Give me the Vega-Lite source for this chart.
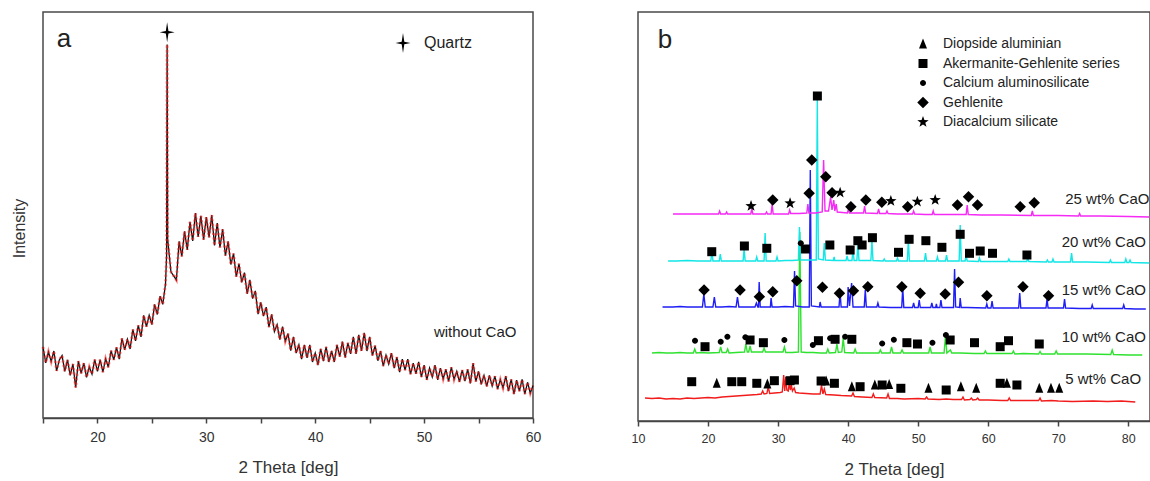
{
  "$schema": "https://vega.github.io/schema/vega-lite/v6.json",
  "background": "white",
  "padding": {"left": 10, "top": 11, "right": 0, "bottom": 0},
  "bounds": "flush",
  "spacing": 105,
  "config": {
    "view": {"stroke": "#4a4a4a", "strokeWidth": 1.5},
    "font": "Liberation Sans"
  },
  "resolve": {"scale": {"shape": "independent", "color": "independent"}, "legend": {"shape": "independent"}},
  "datasets": {
    "xrdA": [
      {"t":15.00,"i":17.5},{"t":15.25,"i":13.6},{"t":15.50,"i":16.3},{"t":15.75,"i":13.9},
      {"t":16.00,"i":16.5},{"t":16.25,"i":11.6},{"t":16.50,"i":14.3},{"t":16.75,"i":15.4},
      {"t":17.00,"i":11.5},{"t":17.25,"i":14.3},{"t":17.50,"i":10.5},{"t":17.75,"i":13.3},
      {"t":18.00,"i":7.5},{"t":18.25,"i":14.0},{"t":18.50,"i":11.0},{"t":18.75,"i":13.5},
      {"t":19.00,"i":10.0},{"t":19.25,"i":12.6},{"t":19.50,"i":10.8},{"t":19.75,"i":14.4},
      {"t":20.00,"i":11.5},{"t":20.25,"i":14.4},{"t":20.50,"i":11.3},{"t":20.75,"i":14.6},
      {"t":21.00,"i":12.5},{"t":21.25,"i":16.6},{"t":21.50,"i":14.3},{"t":21.75,"i":17.4},
      {"t":22.00,"i":14.5},{"t":22.25,"i":19.6},{"t":22.50,"i":16.8},{"t":22.75,"i":19.4},
      {"t":23.00,"i":17.0},{"t":23.25,"i":21.8},{"t":23.50,"i":19.0},{"t":23.75,"i":22.8},
      {"t":24.00,"i":20.0},{"t":24.25,"i":25.3},{"t":24.50,"i":22.5},{"t":24.75,"i":25.3},
      {"t":25.00,"i":23.0},{"t":25.25,"i":28.0},{"t":25.50,"i":25.5},{"t":25.75,"i":30.0},
      {"t":26.00,"i":28.0},{"t":26.25,"i":33.0},{"t":26.35,"i":40.0},{"t":26.40,"i":92.0},
      {"t":26.45,"i":44.0},{"t":26.75,"i":36.0},{"t":27.00,"i":35.0},{"t":27.25,"i":34.0},
      {"t":27.50,"i":43.5},{"t":27.75,"i":39.8},{"t":28.00,"i":46.0},{"t":28.25,"i":41.4},
      {"t":28.50,"i":48.3},{"t":28.75,"i":43.6},{"t":29.00,"i":50.5},{"t":29.25,"i":44.6},
      {"t":29.50,"i":49.8},{"t":29.75,"i":43.9},{"t":30.00,"i":49.5},{"t":30.25,"i":44.5},
      {"t":30.50,"i":50.0},{"t":30.75,"i":42.5},{"t":31.00,"i":48.0},{"t":31.25,"i":42.0},
      {"t":31.50,"i":46.5},{"t":31.75,"i":40.0},{"t":32.00,"i":43.5},{"t":32.25,"i":37.8},
      {"t":32.50,"i":40.5},{"t":32.75,"i":34.8},{"t":33.00,"i":38.0},{"t":33.25,"i":33.4},
      {"t":33.50,"i":35.8},{"t":33.75,"i":30.6},{"t":34.00,"i":34.0},{"t":34.25,"i":29.4},
      {"t":34.50,"i":31.3},{"t":34.75,"i":25.6},{"t":35.00,"i":28.5},{"t":35.25,"i":25.1},
      {"t":35.50,"i":27.3},{"t":35.75,"i":22.4},{"t":36.00,"i":25.5},{"t":36.25,"i":21.3},
      {"t":36.50,"i":23.0},{"t":36.75,"i":19.3},{"t":37.00,"i":22.5},{"t":37.25,"i":18.9},
      {"t":37.50,"i":20.8},{"t":37.75,"i":16.6},{"t":38.00,"i":20.0},{"t":38.25,"i":16.0},
      {"t":38.50,"i":18.0},{"t":38.75,"i":14.5},{"t":39.00,"i":18.0},{"t":39.25,"i":14.8},
      {"t":39.50,"i":18.0},{"t":39.75,"i":13.8},{"t":40.00,"i":16.0},{"t":40.25,"i":13.0},
      {"t":40.50,"i":17.0},{"t":40.75,"i":14.0},{"t":41.00,"i":17.5},{"t":41.25,"i":13.8},
      {"t":41.50,"i":16.5},{"t":41.75,"i":13.8},{"t":42.00,"i":18.0},{"t":42.25,"i":15.1},
      {"t":42.50,"i":18.8},{"t":42.75,"i":14.9},{"t":43.00,"i":18.5},{"t":43.25,"i":15.8},
      {"t":43.50,"i":20.0},{"t":43.75,"i":15.8},{"t":44.00,"i":20.5},{"t":44.25,"i":16.5},
      {"t":44.50,"i":21.0},{"t":44.75,"i":16.5},{"t":45.00,"i":20.0},{"t":45.25,"i":15.4},
      {"t":45.50,"i":17.8},{"t":45.75,"i":14.1},{"t":46.00,"i":16.5},{"t":46.25,"i":12.8},
      {"t":46.50,"i":15.5},{"t":46.75,"i":13.3},{"t":47.00,"i":16.0},{"t":47.25,"i":12.3},
      {"t":47.50,"i":15.0},{"t":47.75,"i":11.3},{"t":48.00,"i":14.5},{"t":48.25,"i":11.8},
      {"t":48.50,"i":14.5},{"t":48.75,"i":10.8},{"t":49.00,"i":13.5},{"t":49.25,"i":10.9},
      {"t":49.50,"i":13.8},{"t":49.75,"i":10.1},{"t":50.00,"i":13.0},{"t":50.25,"i":9.4},
      {"t":50.50,"i":12.3},{"t":50.75,"i":10.1},{"t":51.00,"i":13.0},{"t":51.25,"i":9.4},
      {"t":51.50,"i":12.3},{"t":51.75,"i":9.6},{"t":52.00,"i":12.0},{"t":52.25,"i":9.0},
      {"t":52.50,"i":12.5},{"t":52.75,"i":9.5},{"t":53.00,"i":11.5},{"t":53.25,"i":8.9},
      {"t":53.50,"i":11.8},{"t":53.75,"i":9.1},{"t":54.00,"i":12.0},{"t":54.25,"i":8.5},
      {"t":54.50,"i":13.5},{"t":54.75,"i":9.0},{"t":55.00,"i":11.5},{"t":55.25,"i":8.3},
      {"t":55.50,"i":10.5},{"t":55.75,"i":7.8},{"t":56.00,"i":10.5},{"t":56.25,"i":7.9},
      {"t":56.50,"i":10.3},{"t":56.75,"i":7.1},{"t":57.00,"i":9.5},{"t":57.25,"i":7.4},
      {"t":57.50,"i":10.3},{"t":57.75,"i":6.6},{"t":58.00,"i":9.5},{"t":58.25,"i":5.9},
      {"t":58.50,"i":9.3},{"t":58.75,"i":6.6},{"t":59.00,"i":9.5},{"t":59.25,"i":5.9},
      {"t":59.50,"i":8.8},{"t":59.75,"i":6.1},{"t":60.00,"i":8.0}
    ],
    "quartz": [{"t":26.4,"i":95.0,"p":"Quartz"}],
    "tagA": [{"t":16.93,"i":91.3,"txt":"a"}],
    "noteA": [{"t":50.9,"i":21.1,"txt":"without CaO"}],
    "xrdB": [
      {"s":"5","t":11,"v":23},{"s":"5","t":12,"v":22.5},{"s":"5","t":13,"v":23},{"s":"5","t":14,"v":22},{"s":"5","t":15,"v":22.5},{"s":"5","t":16,"v":22},{"s":"5","t":17,"v":23},{"s":"5","t":18,"v":22.5},{"s":"5","t":19,"v":23},{"s":"5","t":20,"v":23.5},{"s":"5","t":21,"v":23},{"s":"5","t":22,"v":24},{"s":"5","t":23,"v":24.5},{"s":"5","t":24,"v":25},{"s":"5","t":25,"v":25.5},{"s":"5","t":26,"v":26},{"s":"5","t":27,"v":26.5},{"s":"5","t":27.6,"v":27},{"s":"5","t":27.8,"v":30},{"s":"5","t":28,"v":27},{"s":"5","t":28.4,"v":27.5},{"s":"5","t":28.6,"v":34},{"s":"5","t":28.8,"v":27.5},{"s":"5","t":29.5,"v":28},{"s":"5","t":30.3,"v":28.5},{"s":"5","t":30.6,"v":29},{"s":"5","t":30.8,"v":46},{"s":"5","t":30.95,"v":30},{"s":"5","t":31.1,"v":44},{"s":"5","t":31.25,"v":31},{"s":"5","t":31.45,"v":30},{"s":"5","t":31.6,"v":38},{"s":"5","t":31.75,"v":31},{"s":"5","t":31.9,"v":36},{"s":"5","t":32.05,"v":30},{"s":"5","t":32.3,"v":33},{"s":"5","t":32.5,"v":28.5},{"s":"5","t":33,"v":28},{"s":"5","t":34,"v":27.5},{"s":"5","t":35,"v":27},{"s":"5","t":36,"v":27},{"s":"5","t":36.2,"v":36},{"s":"5","t":36.4,"v":27},{"s":"5","t":36.6,"v":32},{"s":"5","t":36.8,"v":26.5},{"s":"5","t":38,"v":26},{"s":"5","t":39,"v":25.5},{"s":"5","t":40.5,"v":25},{"s":"5","t":40.7,"v":28},{"s":"5","t":40.9,"v":24.5},{"s":"5","t":42,"v":24},{"s":"5","t":43.4,"v":23.5},{"s":"5","t":43.6,"v":27},{"s":"5","t":43.8,"v":23.5},{"s":"5","t":45.5,"v":23},{"s":"5","t":45.7,"v":27},{"s":"5","t":45.9,"v":22.5},{"s":"5","t":47,"v":22.5},{"s":"5","t":48,"v":22},{"s":"5","t":50,"v":22.5},{"s":"5","t":51,"v":22},{"s":"5","t":51.2,"v":24},{"s":"5","t":51.4,"v":22},{"s":"5","t":53,"v":21.5},{"s":"5","t":54,"v":22},{"s":"5","t":55,"v":21.5},{"s":"5","t":56.2,"v":21.5},{"s":"5","t":56.4,"v":24},{"s":"5","t":56.6,"v":21},{"s":"5","t":57.4,"v":21.5},{"s":"5","t":57.6,"v":23},{"s":"5","t":57.8,"v":21},{"s":"5","t":58.3,"v":21.5},{"s":"5","t":58.5,"v":23},{"s":"5","t":58.7,"v":21},{"s":"5","t":60,"v":21},{"s":"5","t":62,"v":20.5},{"s":"5","t":62.8,"v":20.5},{"s":"5","t":63,"v":23},{"s":"5","t":63.2,"v":20.5},{"s":"5","t":65,"v":20.5},{"s":"5","t":67.2,"v":20.5},{"s":"5","t":67.4,"v":23},{"s":"5","t":67.6,"v":20},{"s":"5","t":69,"v":20.5},{"s":"5","t":70,"v":20},{"s":"5","t":72,"v":19.5},{"s":"5","t":75,"v":20},{"s":"5","t":77,"v":19.5},{"s":"5","t":79,"v":20},{"s":"5","t":81,"v":19},
      {"s":"10","t":12,"v":68},{"s":"10","t":13,"v":68.5},{"s":"10","t":14,"v":68},{"s":"10","t":15,"v":68},{"s":"10","t":16,"v":68.5},{"s":"10","t":17,"v":68},{"s":"10","t":17.9,"v":68},{"s":"10","t":18.1,"v":72},{"s":"10","t":18.3,"v":68},{"s":"10","t":19,"v":68.5},{"s":"10","t":20,"v":68},{"s":"10","t":21.6,"v":68.5},{"s":"10","t":21.8,"v":74},{"s":"10","t":22,"v":68.5},{"s":"10","t":22.6,"v":68.5},{"s":"10","t":22.8,"v":72},{"s":"10","t":23,"v":68},{"s":"10","t":24,"v":68.5},{"s":"10","t":25.2,"v":69},{"s":"10","t":25.4,"v":77},{"s":"10","t":25.6,"v":69},{"s":"10","t":25.8,"v":69},{"s":"10","t":26,"v":75},{"s":"10","t":26.2,"v":69},{"s":"10","t":27,"v":69},{"s":"10","t":27.8,"v":69},{"s":"10","t":28,"v":73},{"s":"10","t":28.2,"v":69},{"s":"10","t":29,"v":69},{"s":"10","t":30.7,"v":69},{"s":"10","t":30.9,"v":74},{"s":"10","t":31.1,"v":68.5},{"s":"10","t":32,"v":68.5},{"s":"10","t":32.9,"v":69},{"s":"10","t":33.1,"v":189},{"s":"10","t":33.3,"v":69},{"s":"10","t":34,"v":68.5},{"s":"10","t":35,"v":68.5},{"s":"10","t":36,"v":68},{"s":"10","t":36.9,"v":68},{"s":"10","t":37.1,"v":72},{"s":"10","t":37.3,"v":68},{"s":"10","t":38.2,"v":68.5},{"s":"10","t":38.4,"v":77},{"s":"10","t":38.6,"v":68.5},{"s":"10","t":39.1,"v":69},{"s":"10","t":39.3,"v":83},{"s":"10","t":39.5,"v":68.5},{"s":"10","t":40.8,"v":68},{"s":"10","t":41,"v":72},{"s":"10","t":41.2,"v":68},{"s":"10","t":42,"v":68},{"s":"10","t":43,"v":68},{"s":"10","t":44.4,"v":68},{"s":"10","t":44.6,"v":71},{"s":"10","t":44.8,"v":68},{"s":"10","t":46,"v":68},{"s":"10","t":46.2,"v":74},{"s":"10","t":46.4,"v":68},{"s":"10","t":47.5,"v":68},{"s":"10","t":47.7,"v":71},{"s":"10","t":47.9,"v":68},{"s":"10","t":49,"v":68},{"s":"10","t":50,"v":68},{"s":"10","t":51.5,"v":68},{"s":"10","t":51.7,"v":74},{"s":"10","t":51.9,"v":68},{"s":"10","t":53,"v":68},{"s":"10","t":53.7,"v":68},{"s":"10","t":53.9,"v":85},{"s":"10","t":54.1,"v":68},{"s":"10","t":54.6,"v":71},{"s":"10","t":54.8,"v":68},{"s":"10","t":56,"v":68},{"s":"10","t":58,"v":67.5},{"s":"10","t":59.4,"v":67.5},{"s":"10","t":59.6,"v":70},{"s":"10","t":59.8,"v":67.5},{"s":"10","t":61,"v":67.5},{"s":"10","t":63.4,"v":67.5},{"s":"10","t":63.6,"v":70},{"s":"10","t":63.8,"v":67},{"s":"10","t":65,"v":67.5},{"s":"10","t":67.2,"v":67},{"s":"10","t":67.4,"v":69.5},{"s":"10","t":67.6,"v":67},{"s":"10","t":69.5,"v":67},{"s":"10","t":69.7,"v":70},{"s":"10","t":69.9,"v":67},{"s":"10","t":72,"v":67},{"s":"10","t":74,"v":67},{"s":"10","t":77.5,"v":66.5},{"s":"10","t":77.7,"v":71},{"s":"10","t":77.9,"v":66.5},{"s":"10","t":80,"v":66},{"s":"10","t":82,"v":66},
      {"s":"15","t":13.5,"v":114},{"s":"15","t":15,"v":114},{"s":"15","t":16,"v":114.5},{"s":"15","t":17,"v":114},{"s":"15","t":18,"v":114},{"s":"15","t":19.2,"v":114},{"s":"15","t":19.4,"v":127},{"s":"15","t":19.6,"v":114},{"s":"15","t":20.7,"v":114},{"s":"15","t":20.9,"v":124},{"s":"15","t":21.1,"v":114},{"s":"15","t":22,"v":114},{"s":"15","t":23,"v":114.5},{"s":"15","t":24,"v":114},{"s":"15","t":24.2,"v":124},{"s":"15","t":24.4,"v":114},{"s":"15","t":25.5,"v":114},{"s":"15","t":26.7,"v":114},{"s":"15","t":26.9,"v":118},{"s":"15","t":27.1,"v":114},{"s":"15","t":27.2,"v":114},{"s":"15","t":27.3,"v":139},{"s":"15","t":27.45,"v":114},{"s":"15","t":28.9,"v":114},{"s":"15","t":29,"v":123},{"s":"15","t":29.15,"v":114},{"s":"15","t":30,"v":114},{"s":"15","t":31,"v":114.5},{"s":"15","t":32.2,"v":114},{"s":"15","t":32.35,"v":150},{"s":"15","t":32.5,"v":115},{"s":"15","t":33.5,"v":114},{"s":"15","t":34.45,"v":114},{"s":"15","t":34.6,"v":251},{"s":"15","t":34.75,"v":115},{"s":"15","t":35.9,"v":114},{"s":"15","t":36,"v":119},{"s":"15","t":36.15,"v":114},{"s":"15","t":37,"v":114},{"s":"15","t":38.7,"v":114},{"s":"15","t":38.85,"v":129},{"s":"15","t":39,"v":114},{"s":"15","t":39.9,"v":114},{"s":"15","t":40,"v":134},{"s":"15","t":40.2,"v":115},{"s":"15","t":40.5,"v":138},{"s":"15","t":40.7,"v":114},{"s":"15","t":42.3,"v":114},{"s":"15","t":42.45,"v":131},{"s":"15","t":42.6,"v":114},{"s":"15","t":44.1,"v":114},{"s":"15","t":44.25,"v":118},{"s":"15","t":44.4,"v":114},{"s":"15","t":46,"v":113.5},{"s":"15","t":47.65,"v":113.5},{"s":"15","t":47.8,"v":133},{"s":"15","t":47.95,"v":113.5},{"s":"15","t":49.2,"v":113.5},{"s":"15","t":49.35,"v":118},{"s":"15","t":49.5,"v":113.5},{"s":"15","t":50,"v":113.5},{"s":"15","t":50.15,"v":121},{"s":"15","t":50.3,"v":113.5},{"s":"15","t":51.8,"v":113.5},{"s":"15","t":51.95,"v":118},{"s":"15","t":52.1,"v":113.5},{"s":"15","t":52.5,"v":113.5},{"s":"15","t":52.6,"v":117},{"s":"15","t":52.7,"v":113.5},{"s":"15","t":53.1,"v":113.5},{"s":"15","t":53.25,"v":121},{"s":"15","t":53.4,"v":113.5},{"s":"15","t":55.05,"v":113.5},{"s":"15","t":55.2,"v":152},{"s":"15","t":55.35,"v":114},{"s":"15","t":55.9,"v":113.5},{"s":"15","t":56,"v":123},{"s":"15","t":56.15,"v":113.5},{"s":"15","t":57,"v":113.5},{"s":"15","t":59.65,"v":113},{"s":"15","t":59.8,"v":117},{"s":"15","t":59.95,"v":113},{"s":"15","t":60.4,"v":113},{"s":"15","t":60.55,"v":120},{"s":"15","t":60.7,"v":113},{"s":"15","t":62,"v":113},{"s":"15","t":64.35,"v":113},{"s":"15","t":64.5,"v":128},{"s":"15","t":64.65,"v":113},{"s":"15","t":66.5,"v":113},{"s":"15","t":68.25,"v":113},{"s":"15","t":68.4,"v":122},{"s":"15","t":68.55,"v":113},{"s":"15","t":70.75,"v":113},{"s":"15","t":70.9,"v":122},{"s":"15","t":71.05,"v":113},{"s":"15","t":73,"v":112.5},{"s":"15","t":74.7,"v":112.5},{"s":"15","t":74.85,"v":116},{"s":"15","t":75,"v":112.5},{"s":"15","t":77,"v":112.5},{"s":"15","t":79.2,"v":112.5},{"s":"15","t":79.35,"v":116},{"s":"15","t":79.5,"v":112.5},{"s":"15","t":81,"v":112},{"s":"15","t":82.5,"v":112},
      {"s":"20","t":14.3,"v":160},{"s":"20","t":15.5,"v":160},{"s":"20","t":17,"v":160.5},{"s":"20","t":18.5,"v":160},{"s":"20","t":20.4,"v":160},{"s":"20","t":20.55,"v":170},{"s":"20","t":20.7,"v":160},{"s":"20","t":21.6,"v":160},{"s":"20","t":21.75,"v":167},{"s":"20","t":21.9,"v":160},{"s":"20","t":23,"v":160},{"s":"20","t":25,"v":160},{"s":"20","t":25.15,"v":172},{"s":"20","t":25.3,"v":160},{"s":"20","t":26.8,"v":160},{"s":"20","t":26.95,"v":164},{"s":"20","t":27.1,"v":160},{"s":"20","t":28,"v":160},{"s":"20","t":28.15,"v":188},{"s":"20","t":28.3,"v":160},{"s":"20","t":29.7,"v":160},{"s":"20","t":29.85,"v":164},{"s":"20","t":30,"v":160},{"s":"20","t":31,"v":160.5},{"s":"20","t":32,"v":160.5},{"s":"20","t":32.9,"v":161},{"s":"20","t":33.05,"v":194},{"s":"20","t":33.2,"v":161},{"s":"20","t":34,"v":161},{"s":"20","t":35.45,"v":161},{"s":"20","t":35.6,"v":321},{"s":"20","t":35.75,"v":162},{"s":"20","t":36.45,"v":161},{"s":"20","t":36.6,"v":178},{"s":"20","t":36.75,"v":161},{"s":"20","t":37.9,"v":160.5},{"s":"20","t":38,"v":164},{"s":"20","t":38.1,"v":160.5},{"s":"20","t":39.7,"v":160.5},{"s":"20","t":39.85,"v":165},{"s":"20","t":40,"v":160.5},{"s":"20","t":40.55,"v":160.5},{"s":"20","t":40.7,"v":172},{"s":"20","t":40.85,"v":160.5},{"s":"20","t":41.25,"v":160.5},{"s":"20","t":41.4,"v":178},{"s":"20","t":41.55,"v":160.5},{"s":"20","t":43.25,"v":160.5},{"s":"20","t":43.4,"v":181},{"s":"20","t":43.55,"v":160.5},{"s":"20","t":45,"v":160},{"s":"20","t":45.15,"v":162},{"s":"20","t":45.3,"v":160},{"s":"20","t":46.9,"v":160},{"s":"20","t":47.05,"v":163},{"s":"20","t":47.2,"v":160},{"s":"20","t":48.45,"v":160},{"s":"20","t":48.6,"v":181},{"s":"20","t":48.75,"v":160},{"s":"20","t":50.9,"v":160},{"s":"20","t":51.05,"v":168},{"s":"20","t":51.2,"v":160},{"s":"20","t":52.6,"v":160},{"s":"20","t":52.75,"v":164},{"s":"20","t":52.9,"v":160},{"s":"20","t":53.9,"v":160},{"s":"20","t":54.05,"v":166},{"s":"20","t":54.2,"v":160},{"s":"20","t":55.85,"v":160},{"s":"20","t":56,"v":196},{"s":"20","t":56.15,"v":160},{"s":"20","t":56.7,"v":160},{"s":"20","t":56.85,"v":165},{"s":"20","t":57,"v":160},{"s":"20","t":58.6,"v":159.5},{"s":"20","t":58.75,"v":163},{"s":"20","t":58.9,"v":159.5},{"s":"20","t":60.5,"v":159.5},{"s":"20","t":62.8,"v":159.5},{"s":"20","t":62.95,"v":162},{"s":"20","t":63.1,"v":159.5},{"s":"20","t":65.5,"v":159.5},{"s":"20","t":65.65,"v":163},{"s":"20","t":65.8,"v":159.5},{"s":"20","t":68.3,"v":159},{"s":"20","t":68.45,"v":161},{"s":"20","t":68.6,"v":159},{"s":"20","t":69.1,"v":159},{"s":"20","t":69.25,"v":162},{"s":"20","t":69.4,"v":159},{"s":"20","t":71.75,"v":159},{"s":"20","t":71.9,"v":168},{"s":"20","t":72.05,"v":159},{"s":"20","t":74,"v":159},{"s":"20","t":77.3,"v":158.5},{"s":"20","t":77.45,"v":161},{"s":"20","t":77.6,"v":158.5},{"s":"20","t":79.5,"v":158.5},{"s":"20","t":79.65,"v":162},{"s":"20","t":79.8,"v":158.5},{"s":"20","t":80.1,"v":158.5},{"s":"20","t":80.25,"v":161},{"s":"20","t":80.4,"v":158.5},{"s":"20","t":83,"v":158},
      {"s":"25","t":15,"v":207},{"s":"25","t":16.5,"v":207},{"s":"25","t":18,"v":207},{"s":"25","t":20,"v":207},{"s":"25","t":21.5,"v":207},{"s":"25","t":21.65,"v":210},{"s":"25","t":21.8,"v":207},{"s":"25","t":22.5,"v":207},{"s":"25","t":22.65,"v":209},{"s":"25","t":22.8,"v":207},{"s":"25","t":24,"v":207},{"s":"25","t":26.1,"v":207},{"s":"25","t":26.25,"v":212},{"s":"25","t":26.4,"v":207},{"s":"25","t":28.2,"v":207},{"s":"25","t":28.35,"v":209},{"s":"25","t":28.5,"v":207},{"s":"25","t":29,"v":207},{"s":"25","t":29.15,"v":217},{"s":"25","t":29.3,"v":207},{"s":"25","t":30.5,"v":207},{"s":"25","t":31.5,"v":207},{"s":"25","t":31.65,"v":211},{"s":"25","t":31.8,"v":207.5},{"s":"25","t":33,"v":207.5},{"s":"25","t":34.1,"v":208},{"s":"25","t":34.25,"v":217},{"s":"25","t":34.4,"v":208},{"s":"25","t":35.4,"v":208},{"s":"25","t":36.3,"v":209},{"s":"25","t":36.5,"v":261},{"s":"25","t":36.7,"v":210},{"s":"25","t":37.2,"v":210},{"s":"25","t":37.5,"v":224},{"s":"25","t":37.7,"v":211},{"s":"25","t":37.95,"v":221},{"s":"25","t":38.1,"v":210},{"s":"25","t":38.3,"v":217},{"s":"25","t":38.45,"v":209},{"s":"25","t":39.9,"v":208},{"s":"25","t":40.05,"v":212},{"s":"25","t":40.2,"v":208},{"s":"25","t":41.2,"v":208},{"s":"25","t":42.2,"v":208},{"s":"25","t":42.35,"v":215},{"s":"25","t":42.5,"v":208},{"s":"25","t":44.2,"v":207.5},{"s":"25","t":44.35,"v":212},{"s":"25","t":44.5,"v":207.5},{"s":"25","t":45.4,"v":207.5},{"s":"25","t":45.55,"v":210},{"s":"25","t":45.7,"v":207.5},{"s":"25","t":47,"v":207},{"s":"25","t":49.2,"v":207},{"s":"25","t":49.35,"v":210},{"s":"25","t":49.5,"v":207},{"s":"25","t":51,"v":206.5},{"s":"25","t":52,"v":206.5},{"s":"25","t":52.15,"v":210},{"s":"25","t":52.3,"v":206.5},{"s":"25","t":54,"v":206.5},{"s":"25","t":56.85,"v":206.5},{"s":"25","t":57,"v":216},{"s":"25","t":57.15,"v":206.5},{"s":"25","t":59,"v":206},{"s":"25","t":62,"v":206},{"s":"25","t":66.15,"v":205.5},{"s":"25","t":66.3,"v":210},{"s":"25","t":66.45,"v":205.5},{"s":"25","t":70,"v":205.5},{"s":"25","t":72.9,"v":205},{"s":"25","t":73.05,"v":207.5},{"s":"25","t":73.2,"v":205},{"s":"25","t":76,"v":205},{"s":"25","t":80,"v":204.5},{"s":"25","t":83,"v":204}
    ],
    "marksB": [
      {"p":"Diacalcium silicate","t":26.14,"v":215},{"p":"Gehlenite","t":29.24,"v":221},{"p":"Diacalcium silicate","t":31.71,"v":217.7},{"p":"Gehlenite","t":34.43,"v":227.7},{"p":"Gehlenite","t":34.81,"v":261},{"p":"Gehlenite","t":36.81,"v":244.3},{"p":"Gehlenite","t":37.71,"v":228.3},{"p":"Diacalcium silicate","t":38.86,"v":228.3},{"p":"Gehlenite","t":40.39,"v":214.3},{"p":"Gehlenite","t":42.53,"v":221},{"p":"Gehlenite","t":44.81,"v":218.7},{"p":"Diacalcium silicate","t":46.1,"v":220},{"p":"Gehlenite","t":48.5,"v":214.3},{"p":"Diacalcium silicate","t":49.89,"v":219.3},{"p":"Diacalcium silicate","t":52.43,"v":221},{"p":"Gehlenite","t":55.61,"v":216},{"p":"Gehlenite","t":57.19,"v":224.3},{"p":"Gehlenite","t":58.47,"v":216},{"p":"Gehlenite","t":64.57,"v":214.3},{"p":"Gehlenite","t":66.57,"v":218.3},
      {"p":"Akermanite-Gehlenite series","t":20.53,"v":169.3},{"p":"Akermanite-Gehlenite series","t":25.19,"v":175},{"p":"Akermanite-Gehlenite series","t":28.39,"v":172.7},{"p":"Calcium aluminosilicate","t":33.24,"v":177.7},{"p":"Akermanite-Gehlenite series","t":33.9,"v":172},{"p":"Akermanite-Gehlenite series","t":35.61,"v":325},{"p":"Akermanite-Gehlenite series","t":37.39,"v":176},{"p":"Akermanite-Gehlenite series","t":40.29,"v":171},{"p":"Akermanite-Gehlenite series","t":41.39,"v":180.3},{"p":"Akermanite-Gehlenite series","t":42.0,"v":176},{"p":"Akermanite-Gehlenite series","t":43.47,"v":183.3},{"p":"Akermanite-Gehlenite series","t":47.19,"v":168.7},{"p":"Akermanite-Gehlenite series","t":48.71,"v":181.7},{"p":"Akermanite-Gehlenite series","t":51.1,"v":180.3},{"p":"Akermanite-Gehlenite series","t":53.39,"v":173.7},{"p":"Akermanite-Gehlenite series","t":56.0,"v":186.7},{"p":"Akermanite-Gehlenite series","t":57.33,"v":167.7},{"p":"Akermanite-Gehlenite series","t":58.86,"v":170},{"p":"Akermanite-Gehlenite series","t":60.61,"v":167.7},{"p":"Akermanite-Gehlenite series","t":65.53,"v":166},
      {"p":"Gehlenite","t":19.43,"v":131},{"p":"Gehlenite","t":24.57,"v":131},{"p":"Gehlenite","t":27.33,"v":124.3},{"p":"Gehlenite","t":29.24,"v":129.3},{"p":"Gehlenite","t":32.67,"v":140.3},{"p":"Gehlenite","t":36.33,"v":133.7},{"p":"Gehlenite","t":38.76,"v":127.7},{"p":"Gehlenite","t":40.76,"v":130.3},{"p":"Gehlenite","t":42.81,"v":134.3},{"p":"Gehlenite","t":47.67,"v":134.3},{"p":"Gehlenite","t":50.29,"v":127.7},{"p":"Gehlenite","t":53.86,"v":127},{"p":"Gehlenite","t":55.76,"v":138.7},{"p":"Gehlenite","t":59.81,"v":125.3},{"p":"Gehlenite","t":64.96,"v":134.3},{"p":"Gehlenite","t":68.61,"v":125.3},
      {"p":"Calcium aluminosilicate","t":18.14,"v":80.3},{"p":"Akermanite-Gehlenite series","t":19.57,"v":74.3},{"p":"Calcium aluminosilicate","t":21.81,"v":79.3},{"p":"Calcium aluminosilicate","t":22.76,"v":84.3},{"p":"Calcium aluminosilicate","t":25.33,"v":83.7},{"p":"Akermanite-Gehlenite series","t":26.0,"v":81},{"p":"Akermanite-Gehlenite series","t":27.9,"v":78.3},{"p":"Calcium aluminosilicate","t":30.9,"v":81},{"p":"Calcium aluminosilicate","t":34.96,"v":76},{"p":"Akermanite-Gehlenite series","t":35.76,"v":80.3},{"p":"Calcium aluminosilicate","t":37.43,"v":82.7},{"p":"Akermanite-Gehlenite series","t":38.14,"v":81.7},{"p":"Calcium aluminosilicate","t":39.57,"v":84.3},{"p":"Akermanite-Gehlenite series","t":40.53,"v":81.7},{"p":"Calcium aluminosilicate","t":44.86,"v":77.5},{"p":"Calcium aluminosilicate","t":46.53,"v":81.3},{"p":"Akermanite-Gehlenite series","t":48.39,"v":78.3},{"p":"Akermanite-Gehlenite series","t":49.9,"v":77},{"p":"Calcium aluminosilicate","t":52.04,"v":78.3},{"p":"Calcium aluminosilicate","t":53.96,"v":86},{"p":"Akermanite-Gehlenite series","t":54.57,"v":81},{"p":"Akermanite-Gehlenite series","t":58.04,"v":78.3},{"p":"Akermanite-Gehlenite series","t":61.71,"v":74.3},{"p":"Akermanite-Gehlenite series","t":62.9,"v":80.3},{"p":"Akermanite-Gehlenite series","t":67.29,"v":77},
      {"p":"Akermanite-Gehlenite series","t":17.67,"v":39.3},{"p":"Diopside aluminian","t":21.24,"v":37.7},{"p":"Akermanite-Gehlenite series","t":23.39,"v":39.3},{"p":"Akermanite-Gehlenite series","t":24.81,"v":39.3},{"p":"Akermanite-Gehlenite series","t":26.96,"v":37.7},{"p":"Diopside aluminian","t":28.47,"v":37},{"p":"Akermanite-Gehlenite series","t":29.47,"v":40.3},{"p":"Akermanite-Gehlenite series","t":31.71,"v":40.3},{"p":"Akermanite-Gehlenite series","t":32.33,"v":41},{"p":"Akermanite-Gehlenite series","t":36.14,"v":40},{"p":"Diopside aluminian","t":36.86,"v":40},{"p":"Akermanite-Gehlenite series","t":38.04,"v":37.7},{"p":"Diopside aluminian","t":40.53,"v":34.3},{"p":"Akermanite-Gehlenite series","t":41.71,"v":34.3},{"p":"Diopside aluminian","t":43.81,"v":36},{"p":"Akermanite-Gehlenite series","t":44.86,"v":36},{"p":"Diopside aluminian","t":45.86,"v":36.5},{"p":"Akermanite-Gehlenite series","t":47.53,"v":32.7},{"p":"Diopside aluminian","t":51.47,"v":32.7},{"p":"Akermanite-Gehlenite series","t":54.0,"v":31},{"p":"Diopside aluminian","t":56.1,"v":34.3},{"p":"Diopside aluminian","t":58.29,"v":32.7},{"p":"Akermanite-Gehlenite series","t":61.71,"v":37.7},{"p":"Diopside aluminian","t":62.67,"v":37.7},{"p":"Akermanite-Gehlenite series","t":64.1,"v":36},{"p":"Diopside aluminian","t":67.29,"v":32.7},{"p":"Diopside aluminian","t":68.96,"v":32.7},{"p":"Diopside aluminian","t":70.14,"v":32.7}
    ],
    "lblB": [
      {"t":71.0,"v":222.5,"txt":"25 wt% CaO"},
      {"t":70.5,"v":179,"txt":"20 wt% CaO"},
      {"t":70.5,"v":131,"txt":"15 wt% CaO"},
      {"t":70.5,"v":84.3,"txt":"10 wt% CaO"},
      {"t":71.0,"v":42.5,"txt":"5 wt% CaO"}
    ],
    "tagB": [{"t":13.86,"v":373.3,"txt":"b"}]
  },
  "hconcat": [
    {
      "width": 490,
      "height": 406,
      "layer": [
        {
          "data": {"name": "xrdA"},
          "mark": {"type": "line", "color": "#111111", "strokeWidth": 1.3},
          "encoding": {
            "x": {"field": "t", "type": "quantitative", "scale": {"domain": [15, 60], "nice": false, "zero": false},
              "axis": {"values": [15,20,25,30,35,40,45,50,55,60], "labelExpr": "datum.value % 10 === 0 ? datum.label : ''",
                "title": "2 Theta [deg]", "grid": false, "tickSize": 5, "tickWidth": 1.5, "tickColor": "#444",
                "domainColor": "#444", "domainWidth": 1.5, "labelFontSize": 14, "labelPadding": 7, "labelColor": "#333",
                "labelFlush": false, "labelOverlap": false, "titleFontSize": 17, "titleFontWeight": "normal", "titleColor": "#333", "titlePadding": 15}},
            "y": {"field": "i", "type": "quantitative", "scale": {"domain": [0, 100], "nice": false},
              "axis": {"title": "Intensity", "labels": false, "ticks": false, "domain": false, "grid": false,
                "titleFontSize": 16, "titleFontWeight": "normal", "titleColor": "#333", "titlePadding": 16, "titleY": 216}}
          }
        },
        {
          "data": {"name": "xrdA"},
          "mark": {"type": "line", "color": "#ff2020", "strokeWidth": 2.8, "strokeDash": [2, 2.5], "opacity": 0.55},
          "encoding": {"x": {"field": "t", "type": "quantitative"}, "y": {"field": "i", "type": "quantitative"}}
        },
        {
          "data": {"name": "quartz"},
          "mark": {"type": "point", "filled": true, "color": "black", "opacity": 1, "size": 400, "strokeWidth": 0},
          "encoding": {
            "x": {"field": "t", "type": "quantitative"},
            "y": {"field": "i", "type": "quantitative"},
            "shape": {"field": "p", "type": "nominal",
              "scale": {"domain": ["Quartz"], "range": ["M0,-1L0.13,-0.13L0.75,0L0.13,0.13L0,1L-0.13,0.13L-0.75,0L-0.13,-0.13Z"]},
              "legend": {"title": null, "orient": "none", "legendX": 350, "legendY": 21, "labelFontSize": 16, "labelOffset": 11,
                "labelColor": "#222", "symbolSize": 400, "symbolStrokeWidth": 0, "symbolFillColor": "black"}}
          }
        },
        {
          "data": {"name": "tagA"},
          "mark": {"type": "text", "fontSize": 26, "align": "center", "baseline": "alphabetic", "color": "#222"},
          "encoding": {"x": {"field": "t", "type": "quantitative"}, "y": {"field": "i", "type": "quantitative"}, "text": {"field": "txt"}}
        },
        {
          "data": {"name": "noteA"},
          "mark": {"type": "text", "fontSize": 15, "align": "left", "baseline": "middle", "color": "#222"},
          "encoding": {"x": {"field": "t", "type": "quantitative"}, "y": {"field": "i", "type": "quantitative"}, "text": {"field": "txt"}}
        }
      ]
    },
    {
      "width": 512,
      "height": 409,
      "layer": [
        {
          "data": {"name": "xrdB"},
          "mark": {"type": "line", "strokeWidth": 1.4},
          "encoding": {
            "x": {"field": "t", "type": "quantitative", "scale": {"domain": [10, 83.1], "nice": false, "zero": false},
              "axis": {"values": [10,15,20,25,30,35,40,45,50,55,60,65,70,75,80], "labelExpr": "datum.value % 10 === 0 ? datum.label : ''",
                "title": "2 Theta [deg]", "grid": false, "tickSize": 5, "tickWidth": 1.5, "tickColor": "#444",
                "domainColor": "#444", "domainWidth": 1.5, "labelFontSize": 12.5, "labelPadding": 6, "labelColor": "#333",
                "labelFlush": false, "labelOverlap": false, "titleFontSize": 17, "titleFontWeight": "normal", "titleColor": "#333", "titlePadding": 17}},
            "y": {"field": "v", "type": "quantitative", "scale": {"domain": [0, 409], "nice": false}, "axis": null},
            "color": {"field": "s", "type": "nominal",
              "scale": {"domain": ["5","10","15","20","25"], "range": ["#f21c1c","#2fe22f","#1f1ff5","#12e6e6","#f52af5"]},
              "legend": null}
          }
        },
        {
          "data": {"name": "marksB"},
          "mark": {"type": "point", "filled": true, "color": "black", "opacity": 1, "size": 100, "strokeWidth": 0},
          "encoding": {
            "x": {"field": "t", "type": "quantitative"},
            "y": {"field": "v", "type": "quantitative"},
            "shape": {"field": "p", "type": "nominal",
              "scale": {"domain": ["Diopside aluminian","Akermanite-Gehlenite series","Calcium aluminosilicate","Gehlenite","Diacalcium silicate"],
                "range": ["M0,-1.1L0.8,0.9L-0.8,0.9Z","M-0.9,-0.9L0.9,-0.9L0.9,0.9L-0.9,0.9Z","M-0.6,0A0.6,0.6,0,1,1,0.6,0A0.6,0.6,0,1,1,-0.6,0Z","M0,-1.15L1.15,0L0,1.15L-1.15,0Z","M0,-1.2L0.282,-0.388L1.141,-0.371L0.456,0.148L0.705,0.971L0,0.48L-0.705,0.971L-0.456,0.148L-1.141,-0.371L-0.282,-0.388Z"]},
              "legend": {"title": null, "orient": "none", "legendX": 278, "legendY": 25, "labelFontSize": 14, "labelOffset": 13,
                "rowPadding": 5.5, "labelColor": "#222", "labelLimit": 300, "symbolSize": 100, "symbolStrokeWidth": 0, "symbolFillColor": "black"}}
          }
        },
        {
          "data": {"name": "lblB"},
          "mark": {"type": "text", "fontSize": 15, "align": "left", "baseline": "middle", "color": "#222"},
          "encoding": {"x": {"field": "t", "type": "quantitative"}, "y": {"field": "v", "type": "quantitative"}, "text": {"field": "txt"}}
        },
        {
          "data": {"name": "tagB"},
          "mark": {"type": "text", "fontSize": 26, "align": "center", "baseline": "alphabetic", "color": "#222"},
          "encoding": {"x": {"field": "t", "type": "quantitative"}, "y": {"field": "v", "type": "quantitative"}, "text": {"field": "txt"}}
        }
      ]
    }
  ]
}
